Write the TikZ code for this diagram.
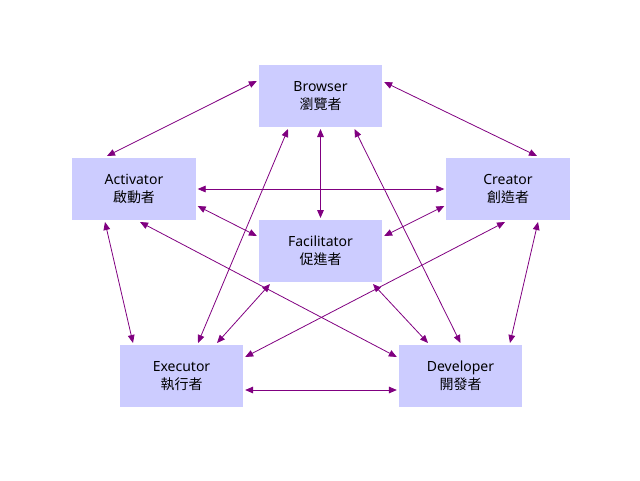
\documentclass[tikz,border=0pt]{standalone}
\usepackage{fontspec}
\setmainfont{Noto Sans}
\newfontfamily\cjk{Noto Sans CJK TC}
\usetikzlibrary{arrows.meta,calc}
\definecolor{boxfill}{HTML}{CCCCFF}
\definecolor{linkc}{HTML}{800080}
\tikzset{
  rolebox/.style={fill=boxfill, draw=none, minimum width=92.5pt, minimum height=46.5pt,
    inner sep=0pt, outer sep=1.5pt, align=center, font=\fontsize{10.5}{13.5}\selectfont},
  link/.style={draw=linkc, line width=0.6pt, {Triangle[length=6pt,width=5pt]}-{Triangle[length=6pt,width=5pt]}}
}
\begin{document}
\begin{tikzpicture}[x=0.75pt,y=-0.75pt]
\useasboundingbox (0,0) rectangle (640,480);
\node[rolebox] (B) at (320.5,96) {Browser\\{\cjk 瀏覽者}};
\node[rolebox] (A) at (134,189) {Activator\\{\cjk 啟動者}};
\node[rolebox] (C) at (508,189) {Creator\\{\cjk 創造者}};
\node[rolebox] (F) at (320.5,251) {Facilitator\\{\cjk 促進者}};
\node[rolebox] (E) at (181.5,376) {Executor\\{\cjk 執行者}};
\node[rolebox] (D) at (460.5,376) {Developer\\{\cjk 開發者}};
% Browser links
\draw[link] ($(B.west)+(0,-15)$) -- ($(A.north)+(-27,0)$);
\draw[link] ($(B.east)+(0,-14)$) -- ($(C.north)+(29,0)$);
\draw[link] (B.south) -- (F.north);
\draw[link] ($(B.south)+(-32.5,0)$) -- ($(E.north)+(16.5,0)$);
\draw[link] ($(B.south)+(34,0)$) -- ($(D.north)+(0,0)$);
% Activator links
\draw[link] (A.east) -- (C.west);
\draw[link] ($(A.east)+(0,17)$) -- ($(F.west)+(0,-15)$);
\draw[link] ($(A.south)+(-29,0)$) -- ($(E.north)+(-48.5,0)$);
\draw[link] ($(A.south)+(6,0)$) -- ($(D.west)+(0,-19)$);
% Creator links
\draw[link] ($(C.west)+(0,17)$) -- ($(F.east)+(0,-15)$);
\draw[link] ($(C.south)+(-3,0)$) -- ($(E.east)+(0,-19)$);
\draw[link] ($(C.south)+(30,0)$) -- ($(D.north)+(49.5,0)$);
% Facilitator links
\draw[link] ($(F.south)+(-50.5,0)$) -- ($(E.north)+(35.5,0)$);
\draw[link] ($(F.south)+(52.5,0)$) -- ($(D.north)+(-32.5,0)$);
% Executor - Developer
\draw[link] ($(E.east)+(0,14)$) -- ($(D.west)+(0,14)$);
\end{tikzpicture}
\end{document}
